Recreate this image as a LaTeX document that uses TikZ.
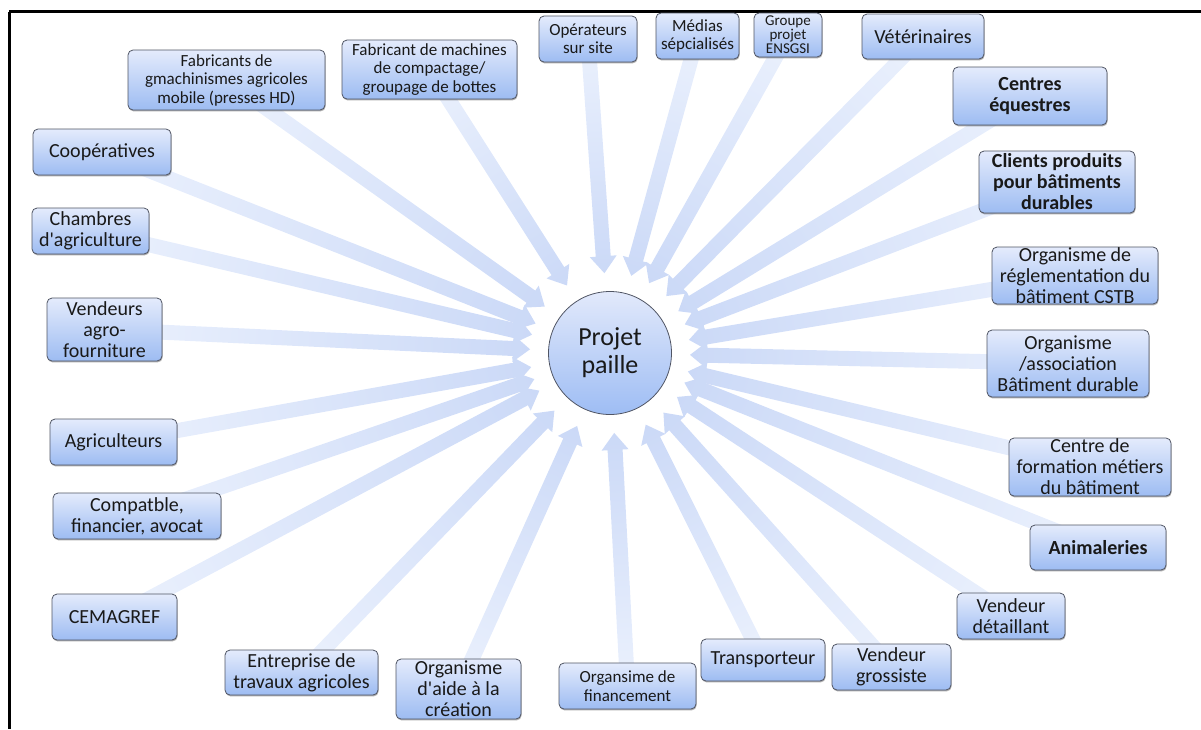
\documentclass[tikz,border=0pt]{standalone}
\usepackage{fontspec}
\setmainfont{Carlito}[Ligatures=TeXOff]
\usetikzlibrary{shadows}
\definecolor{boxtop}{RGB}{228,235,252}
\definecolor{boxbot}{RGB}{157,188,242}
\definecolor{hubtop}{RGB}{226,233,251}
\definecolor{hubbot}{RGB}{158,189,244}
\definecolor{arrowlight}{RGB}{235,241,253}
\definecolor{arrowdark}{RGB}{203,217,247}
\definecolor{bordercol}{RGB}{80,85,100}
\definecolor{textcol}{RGB}{25,25,25}
\pgfdeclarelayer{bg}
\pgfsetlayers{bg,main}
\newcommand\bigfont{\fontsize{20}{21}\selectfont}
\newcommand\smallfont{\fontsize{17}{18.5}\selectfont}
\newcommand\tinyfont{\fontsize{15}{14}\selectfont}
\newcommand\hubfont{\fontsize{26}{28}\selectfont}
\newcommand\flowarrow[1]{%
  \pgfpointanchor{#1}{center}\pgfgetlastxy{\fasx}{\fasy}%
  \pgfpointanchor{hub}{center}\pgfgetlastxy{\fahx}{\fahy}%
  \pgfmathsetmacro\fadx{\fahx-\fasx}%
  \pgfmathsetmacro\fady{\fahy-\fasy}%
  \pgfmathsetmacro\faang{atan2(\fady,\fadx)}%
  \pgfmathsetmacro\falen{veclen(\fadx,\fady)-80}%
  \pgfmathsetmacro\faneck{\falen-17}%
  \begin{scope}[transform canvas={shift={(\fasx,\fasy)},rotate=\faang}]
    \shade[left color=arrowlight,right color=arrowdark]
      (0pt,-7.5pt) -- (\faneck pt,-7.5pt) -- (\faneck pt,-13.5pt) -- (\falen pt,0pt)
      -- (\faneck pt,13.5pt) -- (\faneck pt,7.5pt) -- (0pt,7.5pt) -- cycle;
  \end{scope}}
\tikzset{
  box/.style={rectangle, rounded corners=5pt, draw=bordercol, line width=0.8pt,
    top color=boxtop, bottom color=boxbot, align=center, inner sep=0pt,
    text=textcol, font=\bigfont,
    drop shadow={shadow xshift=0.6pt, shadow yshift=-1.4pt, opacity=0.45, fill=black!70}},
  hubnode/.style={circle, draw=bordercol, line width=0.8pt, top color=hubtop,
    bottom color=hubbot, align=center, inner sep=0pt, minimum size=123pt,
    text=textcol, font=\hubfont},
  frameline/.style={line width=3pt, black}
}
\begin{document}
\begin{tikzpicture}[x=1pt,y=-1pt]
\useasboundingbox (0,0) rectangle (1201,729);
\draw[frameline] (9,11.5) -- (1201,11.5);
\draw[frameline] (9,11.5) -- (9,729);

\node[hubnode] (hub) at (610,353) {Projet\\paille};

\node[box, font=\smallfont, minimum width=197pt, minimum height=60pt] (fab1) at (226.5,80) {Fabricants de\\gmachinismes agricoles\\mobile (presses HD)};
\node[box, font=\smallfont, minimum width=175pt, minimum height=59pt] (fab2) at (429.5,69.5) {Fabricant de machines\\de compactage/\\groupage de bottes};
\node[box, font=\smallfont, minimum width=98pt, minimum height=46pt] (oper) at (588,39) {Opérateurs\\sur site};
\node[box, font=\smallfont, minimum width=83pt, minimum height=46pt] (medias) at (697.5,36) {Médias\\sépcialisés};
\node[box, font=\tinyfont, minimum width=68pt, minimum height=44pt] (groupe) at (788,35) {Groupe\\projet\\ENSGSI};
\node[box, minimum width=122pt, minimum height=45pt] (veto) at (923,36.5) {Vétérinaires};
\node[box, font=\bigfont\bfseries, minimum width=154pt, minimum height=58pt] (equestre) at (1030,96) {Centres\\équestres};
\node[box, font=\bigfont\bfseries, minimum width=156pt, minimum height=62pt] (clients) at (1057,182) {Clients produits\\pour bâtiments\\durables};
\node[box, minimum width=166pt, minimum height=57pt] (cstb) at (1075,275.5) {Organisme de\\réglementation du\\bâtiment CSTB};
\node[box, minimum width=162pt, minimum height=67pt] (asso) at (1068,363.5) {Organisme\\/association\\Bâtiment durable};
\node[box, minimum width=162pt, minimum height=58pt] (formation) at (1090,467) {Centre de\\formation métiers\\du bâtiment};
\node[box, font=\bigfont\bfseries, minimum width=136pt, minimum height=45pt] (animal) at (1098,547.5) {Animaleries};
\node[box, minimum width=108pt, minimum height=46pt] (detail) at (1011,616) {Vendeur\\détaillant};
\node[box, minimum width=119pt, minimum height=46pt] (gros) at (891.5,667) {Vendeur\\grossiste};
\node[box, minimum width=124pt, minimum height=42pt] (transp) at (763,660) {Transporteur};
\node[box, font=\smallfont, minimum width=137pt, minimum height=46pt] (finance) at (627.5,686) {Organsime de\\financement};
\node[box, minimum width=125pt, minimum height=60pt] (aide) at (458.5,689) {Organisme\\d'aide à la\\création};
\node[box, minimum width=153pt, minimum height=45pt] (travaux) at (301.5,672.5) {Entreprise de\\travaux agricoles};
\node[box, minimum width=125pt, minimum height=46pt] (cemagref) at (114.5,617) {CEMAGREF};
\node[box, minimum width=168pt, minimum height=46pt] (compta) at (137,516) {Compatble,\\financier, avocat};
\node[box, minimum width=127pt, minimum height=46pt] (agri) at (113.5,442) {Agriculteurs};
\node[box, minimum width=115pt, minimum height=63pt] (agro) at (104.5,329.5) {Vendeurs\\agro-\\fourniture};
\node[box, minimum width=117pt, minimum height=46pt] (chambres) at (90.5,231) {Chambres\\d'agriculture};
\node[box, minimum width=138pt, minimum height=46pt] (coop) at (102,152) {Coopératives};

\begin{pgfonlayer}{bg}
\foreach \src in {fab1,fab2,oper,medias,groupe,veto,equestre,clients,cstb,asso,formation,animal,detail,gros,transp,finance,aide,travaux,cemagref,compta,agri,agro,chambres,coop}{\flowarrow{\src}}
\end{pgfonlayer}
\end{tikzpicture}
\end{document}
